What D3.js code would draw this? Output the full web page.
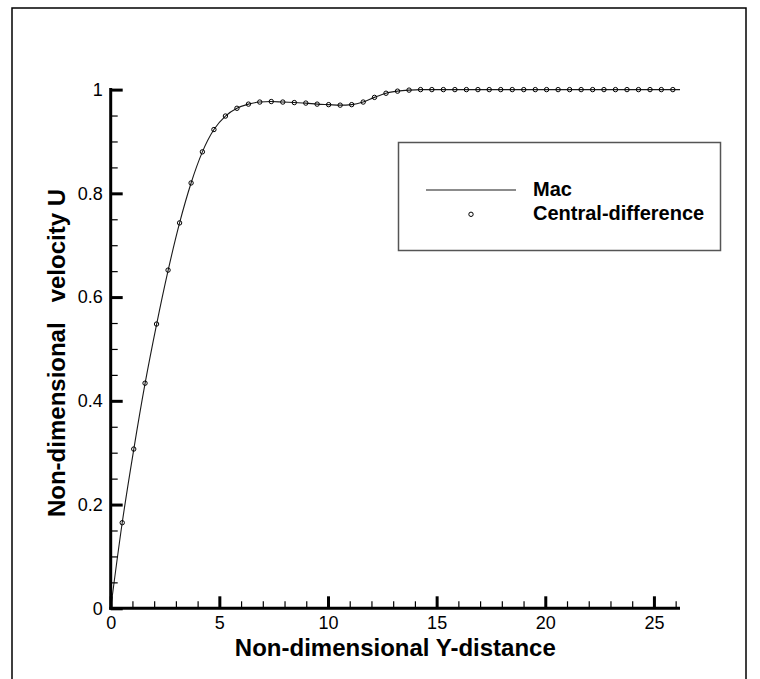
<!DOCTYPE html>
<html>
<head>
<meta charset="utf-8">
<script src="https://cdn.jsdelivr.net/npm/d3@7"></script>
<style>
  html, body { margin: 0; padding: 0; background: #fff; }
  svg { display: block; font-family: "Liberation Sans", Arial, sans-serif; }
</style>
</head>
<body>
<svg id="chart" width="760" height="679"></svg>
<script>
// Velocity profile: Mac scheme (line) vs central-difference scheme (circles)
const macX = [0, 0.53, 1.06, 1.58, 2.11, 2.64, 3.17, 3.70, 4.22, 4.75, 5.28, 5.81, 6.34, 6.86,
  7.39, 7.92, 8.45, 8.98, 9.50, 10.03, 10.56, 11.09, 11.62, 12.14, 12.67, 13.20, 13.73, 14.26,
  14.78, 15.31, 15.84, 16.37, 16.90, 17.42, 17.95, 18.48, 19.01, 19.54, 20.06, 20.59, 21.12,
  21.65, 22.18, 22.70, 23.23, 23.76, 24.29, 24.82, 25.34, 25.87, 26.2];
const macU = [0, 0.165, 0.306, 0.433, 0.547, 0.651, 0.743, 0.820, 0.880, 0.923, 0.949, 0.964,
  0.972, 0.976, 0.977, 0.976, 0.975, 0.974, 0.972, 0.971, 0.970, 0.971, 0.976, 0.985, 0.993,
  0.997, 0.999, 1.0, 1.0, 1.0, 1.0, 1.0, 1.0, 1.0, 1.0, 1.0, 1.0, 1.0, 1.0, 1.0, 1.0, 1.0,
  1.0, 1.0, 1.0, 1.0, 1.0, 1.0, 1.0, 1.0, 1.0];

const cdX = [0.53, 1.06, 1.58, 2.11, 2.64, 3.17, 3.70, 4.22, 4.75, 5.28, 5.81, 6.34, 6.86,
  7.39, 7.92, 8.45, 8.98, 9.50, 10.03, 10.56, 11.09, 11.62, 12.14, 12.67, 13.20, 13.73, 14.26,
  14.78, 15.31, 15.84, 16.37, 16.90, 17.42, 17.95, 18.48, 19.01, 19.54, 20.06, 20.59, 21.12,
  21.65, 22.18, 22.70, 23.23, 23.76, 24.29, 24.82, 25.34, 25.87];
const cdU = [0.165, 0.307, 0.434, 0.548, 0.652, 0.743, 0.820, 0.880, 0.923, 0.949, 0.964,
  0.972, 0.976, 0.977, 0.976, 0.975, 0.974, 0.972, 0.971, 0.970, 0.971, 0.976, 0.985, 0.993,
  0.997, 0.999, 1.0, 1.0, 1.0, 1.0, 1.0, 1.0, 1.0, 1.0, 1.0, 1.0, 1.0, 1.0, 1.0, 1.0, 1.0,
  1.0, 1.0, 1.0, 1.0, 1.0, 1.0, 1.0, 1.0];

const xMajorTicks = [0, 5, 10, 15, 20, 25];
const xMinorTicks = [1, 2, 3, 4, 6, 7, 8, 9, 11, 12, 13, 14, 16, 17, 18, 19, 21, 22, 23, 24, 26];
const yMajorTicks = [0, 0.2, 0.4, 0.6, 0.8, 1];
const yTickLabels = ["0", "0.2", "0.4", "0.6", "0.8", "1"];
const yMinorTicks = [0.05, 0.1, 0.15, 0.25, 0.3, 0.35, 0.45, 0.5, 0.55, 0.65, 0.7, 0.75, 0.85, 0.9, 0.95];

const seriesNames = ["Mac", "Central-difference"];
const xTitle = "Non-dimensional Y-distance";
const yTitleParts = ["Non-dimensional", "velocity U"];

const svg = d3.select("#chart");

// outer frame
svg.append("rect")
  .attr("x", 12).attr("y", 8).attr("width", 734).attr("height", 700)
  .attr("fill", "#fff").attr("stroke", "#000").attr("stroke-width", 1.5);

const x = d3.scaleLinear().domain([0, 26.2]).range([110.7, 680]);
const y = d3.scaleLinear().domain([0, 1]).range([608.3, 89.6]);

// Mac curve
const line = d3.line()
  .x((d, i) => x(macX[i]))
  .y((d, i) => y(macU[i]))
  .curve(d3.curveMonotoneX);
svg.append("path")
  .datum(macU)
  .attr("d", line)
  .attr("fill", "none")
  .attr("stroke", "#1a1a1a")
  .attr("stroke-width", 1.1);

// central-difference symbols
svg.append("g").selectAll("circle")
  .data(cdU)
  .join("circle")
  .attr("cx", (d, i) => x(cdX[i]))
  .attr("cy", d => y(d))
  .attr("r", 2.2)
  .attr("fill", "none")
  .attr("stroke", "#000")
  .attr("stroke-width", 1);

// axes (ticks point inward)
const xAxisMajor = d3.axisBottom(x).tickValues(xMajorTicks).tickSize(-12).tickFormat(d3.format("d")).tickPadding(8);
const xAxisMinor = d3.axisBottom(x).tickValues(xMinorTicks).tickSize(-7).tickFormat("");
const yAxisMajor = d3.axisLeft(y).tickValues(yMajorTicks).tickSize(-12)
  .tickFormat((d, i) => yTickLabels[i]).tickPadding(8);
const yAxisMinor = d3.axisLeft(y).tickValues(yMinorTicks).tickSize(-7).tickFormat("");

function styleAxis(g, major) {
  g.select(".domain").remove();
  g.selectAll(".tick line").attr("stroke", "#000").attr("stroke-width", major ? 3 : 1.2);
  g.selectAll(".tick text").attr("fill", "#000").attr("font-size", 18)
    .attr("font-family", "'Liberation Sans', Arial, sans-serif");
}

svg.append("g").attr("transform", `translate(0,${y(0)})`).call(xAxisMinor).call(g => styleAxis(g, false));
svg.append("g").attr("transform", `translate(0,${y(0)})`).call(xAxisMajor).call(g => styleAxis(g, true));
svg.append("g").attr("transform", `translate(${x(0)},0)`).call(yAxisMinor).call(g => styleAxis(g, false));
svg.append("g").attr("transform", `translate(${x(0)},0)`).call(yAxisMajor).call(g => styleAxis(g, true));

// axis lines
svg.append("line").attr("x1", x(0) - 1.5).attr("x2", x(26.2)).attr("y1", y(0)).attr("y2", y(0))
  .attr("stroke", "#000").attr("stroke-width", 3);
svg.append("line").attr("x1", x(0)).attr("x2", x(0)).attr("y1", y(0) + 1.5).attr("y2", y(1) - 1.5)
  .attr("stroke", "#000").attr("stroke-width", 3);

// axis titles
svg.append("text")
  .attr("x", (x(0) + x(26.2)) / 2).attr("y", 655.5)
  .attr("text-anchor", "middle")
  .attr("font-size", 24).attr("font-weight", "bold")
  .text(xTitle);
const yt = svg.append("text")
  .attr("transform", "translate(65,353) rotate(-90)")
  .attr("text-anchor", "middle")
  .attr("font-size", 24).attr("font-weight", "bold");
yt.append("tspan").text(yTitleParts[0]);
yt.append("tspan").attr("dx", 20).text(yTitleParts[1]);

// legend
const legend = svg.append("g");
legend.append("rect")
  .attr("x", 398.5).attr("y", 142.5).attr("width", 322).attr("height", 108)
  .attr("fill", "#fff").attr("stroke", "#555").attr("stroke-width", 1.5);
legend.append("line")
  .attr("x1", 426).attr("x2", 516).attr("y1", 190).attr("y2", 190)
  .attr("stroke", "#1a1a1a").attr("stroke-width", 1.1);
legend.append("circle")
  .attr("cx", 471).attr("cy", 214.3).attr("r", 2.2)
  .attr("fill", "none").attr("stroke", "#000").attr("stroke-width", 1);
legend.selectAll("text.lab")
  .data(seriesNames)
  .join("text")
  .attr("class", "lab")
  .attr("x", 533).attr("y", (d, i) => 195.5 + i * 24)
  .attr("font-size", 20).attr("font-weight", "bold")
  .text(d => d);
</script>
</body>
</html>
